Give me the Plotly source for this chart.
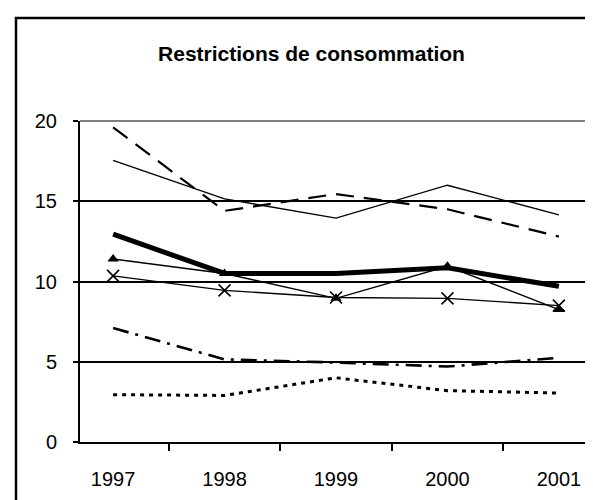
import plotly.graph_objects as go

years = ["1997", "1998", "1999", "2000", "2001"]
serie_tirets = [19.6, 14.4, 15.45, 14.5, 12.8]
serie_fine = [17.55, 15.15, 13.95, 16.0, 14.15]
serie_epaisse = [12.95, 10.5, 10.5, 10.85, 9.7]
serie_triangles = [11.4, 10.5, 8.95, 10.95, 8.25]
serie_croix = [10.35, 9.45, 9.0, 8.95, 8.5]
serie_tiret_point = [7.1, 5.15, 4.95, 4.7, 5.25]
serie_pointillee = [2.95, 2.9, 4.0, 3.2, 3.05]
y_ticks = [0, 5, 10, 15, 20]

FONT = "Liberation Sans, Arial, sans-serif"

fig = go.Figure()

fig.add_trace(go.Scatter(x=years, y=serie_tirets, mode="lines",
                         line=dict(color="black", width=2.2, dash="18px,10px")))
fig.add_trace(go.Scatter(x=years, y=serie_fine, mode="lines",
                         line=dict(color="black", width=1.4)))
fig.add_trace(go.Scatter(x=years, y=serie_epaisse, mode="lines",
                         line=dict(color="black", width=5)))
fig.add_trace(go.Scatter(x=years, y=serie_triangles, mode="lines+markers",
                         line=dict(color="black", width=1.4),
                         marker=dict(symbol="triangle-up", size=10, color="black")))
fig.add_trace(go.Scatter(x=years, y=serie_croix, mode="lines+markers",
                         line=dict(color="black", width=1.4),
                         marker=dict(symbol="x-thin", size=12,
                                     line=dict(color="black", width=1.6))))
fig.add_trace(go.Scatter(x=years, y=serie_tiret_point, mode="lines",
                         line=dict(color="black", width=2.6, dash="16px,7px,3px,7px")))
fig.add_trace(go.Scatter(x=years, y=serie_pointillee, mode="lines",
                         line=dict(color="black", width=3, dash="4px,5px")))

fig.update_layout(
    width=593, height=500,
    margin=dict(l=72, r=9, t=113, b=66),
    paper_bgcolor="white", plot_bgcolor="white",
    showlegend=False,
    title=dict(text="<b>Restrictions de consommation</b>",
               font=dict(family=FONT, size=21, color="black"),
               x=303.5 / 593, xanchor="center", y=1 - 46 / 500, yanchor="middle"),
    font=dict(family=FONT, size=20, color="black"),
    xaxis=dict(type="category", tickson="boundaries", ticks="outside", ticklen=7,
               tickcolor="black", tickwidth=1.5, showline=True, linecolor="black",
               linewidth=2, showgrid=False, tickfont=dict(size=20),
               ticklabelstandoff=18),
    yaxis=dict(range=[0, 20], tickvals=y_ticks, ticks="outside", ticklen=5,
               tickcolor="black", tickwidth=1.5, showline=True, linecolor="black",
               linewidth=2, showgrid=True, gridcolor="black", gridwidth=1.5,
               zeroline=False, tickfont=dict(size=20), ticklabelstandoff=12),
    shapes=[
        dict(type="line", xref="paper", yref="paper", x0=0, x1=1, y0=1, y1=1,
             line=dict(color="#808080", width=2), layer="above"),
        dict(type="line", xref="paper", yref="paper", x0=1, x1=1, y0=0, y1=1,
             line=dict(color="#808080", width=2), layer="above"),
        dict(type="rect", xref="paper", yref="paper",
             x0=(8 - 72) / 512, x1=(592 - 72) / 512,
             y0=(434 - 520) / 321, y1=(434 - 10) / 321,
             line=dict(color="black", width=2.5), fillcolor="rgba(0,0,0,0)"),
    ],
)

fig.write_html("out.html")
